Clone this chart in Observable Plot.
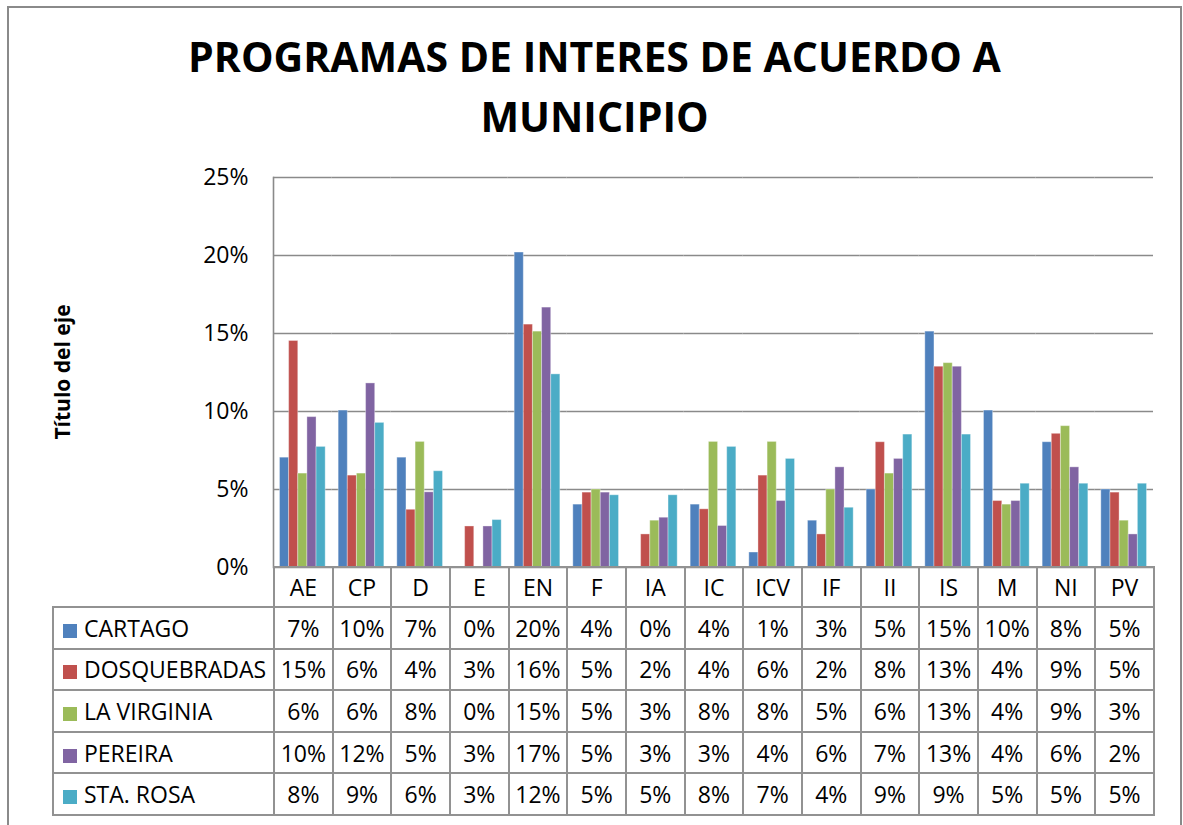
<!DOCTYPE html>
<html>
<head>
<meta charset="utf-8">
<script src="https://cdn.jsdelivr.net/npm/d3@7"></script>
<script src="https://cdn.jsdelivr.net/npm/@observablehq/plot@0.6"></script>
<style>
  body { margin: 0; background: #fff; font-family: "Open Sans", sans-serif; color: #000; }
  #wrap { position: relative; width: 1183px; height: 825px; overflow: hidden; background: #fff; }
  #border { position: absolute; left: 7px; top: 6px; width: 1175px; height: 900px; border: 2px solid #8a8a8a; box-sizing: border-box; }
  #title { position: absolute; left: 7px; top: 26px; width: 1175px; text-align: center; font-weight: bold; font-size: 41px; line-height: 60px; }
  #ytitle { position: absolute; left: 62px; top: 372px; transform: translate(-50%, -50%) rotate(-90deg); font-weight: bold; font-size: 21px; white-space: nowrap; }
  #chart { position: absolute; left: 0; top: 0; }
  #table { position: absolute; border-collapse: collapse; table-layout: fixed; font-size: 23px; }
  #table td { padding: 0; text-align: center; vertical-align: middle; border: 2px solid #929292; white-space: nowrap; }
  #table td.blank { border: none; }
  #table td.leg { text-align: left; padding-left: 9px; }
  .sw { display: inline-block; width: 14px; height: 14px; margin-right: 7px; vertical-align: -1px; }
</style>
</head>
<body>
<div id="wrap">
  <div id="border"></div>
  <div id="title">PROGRAMAS DE INTERES DE ACUERDO A<br>MUNICIPIO</div>
  <div id="ytitle">Título del eje</div>
  <div id="chart"></div>
</div>
<script>
// ---- data ----
const categories = ["AE","CP","D","E","EN","F","IA","IC","ICV","IF","II","IS","M","NI","PV"];
const series = ["CARTAGO","DOSQUEBRADAS","LA VIRGINIA","PEREIRA","STA. ROSA"];
const colors = ["#4F81BD","#C0504D","#9BBB59","#8064A2","#4BACC6"];
const cartago      = [0.0704,0.1006,0.0704,0.0000,0.2019,0.0403,0.0000,0.0403,0.0096,0.0300,0.0500,0.1512,0.1006,0.0803,0.0500];
const dosquebradas = [0.1452,0.0589,0.0370,0.0263,0.1557,0.0480,0.0212,0.0373,0.0589,0.0212,0.0803,0.1287,0.0426,0.0857,0.0480];
const laVirginia   = [0.0602,0.0602,0.0805,0.0000,0.1512,0.0500,0.0300,0.0805,0.0805,0.0500,0.0602,0.1310,0.0403,0.0906,0.0300];
const pereira      = [0.0964,0.1180,0.0482,0.0263,0.1666,0.0480,0.0319,0.0266,0.0426,0.0642,0.0696,0.1287,0.0426,0.0642,0.0212];
const staRosa      = [0.0773,0.0927,0.0617,0.0304,0.1238,0.0463,0.0463,0.0773,0.0696,0.0383,0.0852,0.0852,0.0537,0.0537,0.0537];
const yTicks = [0, 0.05, 0.10, 0.15, 0.20, 0.25];

const seriesValues = [cartago, dosquebradas, laVirginia, pereira, staRosa];
const data = [];
categories.forEach((c, i) => series.forEach((s, j) => data.push({cat: c, series: s, value: seriesValues[j][i]})));
const fmt = d3.format(".0%");

const M = {top: 177, bottom: 3, left: 273, right: 30};
const chart = Plot.plot({
  width: 1183,
  height: 570,
  marginTop: M.top, marginBottom: M.bottom, marginLeft: M.left, marginRight: M.right,
  style: {fontFamily: "'Open Sans', sans-serif", fontSize: "23px", color: "#000", background: "transparent", overflow: "visible"},
  fx: {domain: categories, padding: 0, round: false, axis: null},
  x: {domain: series, paddingInner: 0, paddingOuter: 0.71, round: false, axis: null},
  y: {domain: [0, 0.25], axis: null},
  color: {domain: series, range: colors},
  marks: [
    Plot.gridY(yTicks, {stroke: "#8a8a8a", strokeOpacity: 1, strokeWidth: 1.6}),
    Plot.frame({anchor: "left", facetAnchor: "left", stroke: "#8a8a8a", strokeWidth: 1.6}),
    Plot.axisY(yTicks, {tickFormat: fmt, tickSize: 0, tickPadding: 25, label: null, fontSize: 23}),
    Plot.barY(data, {fx: "cat", x: "series", y: "value", fill: "series", stroke: "#ffffff", strokeOpacity: 0.35, strokeWidth: 1})
  ]
});
document.getElementById("chart").appendChild(chart);

// ---- data table below the chart ----
const fx = chart.scale("fx");
const bw = fx.bandwidth;
const tableLeft = 52;
const table = document.createElement("table");
table.id = "table";
table.style.left = tableLeft + "px";
table.style.top = (570 - M.bottom - 1) + "px";
table.style.width = (M.left - tableLeft + bw * categories.length) + "px";
const colgroup = document.createElement("colgroup");
const c0 = document.createElement("col"); c0.style.width = (M.left - tableLeft) + "px"; colgroup.appendChild(c0);
categories.forEach(() => { const c = document.createElement("col"); c.style.width = bw + "px"; colgroup.appendChild(c); });
table.appendChild(colgroup);
const head = document.createElement("tr");
head.style.height = "40px";
const blank = document.createElement("td"); blank.className = "blank"; head.appendChild(blank);
categories.forEach(c => { const td = document.createElement("td"); td.textContent = c; head.appendChild(td); });
table.appendChild(head);
series.forEach((s, j) => {
  const tr = document.createElement("tr");
  tr.style.height = "41.6px";
  const td0 = document.createElement("td"); td0.className = "leg";
  const sw = document.createElement("span"); sw.className = "sw"; sw.style.background = colors[j];
  td0.appendChild(sw); td0.appendChild(document.createTextNode(s));
  tr.appendChild(td0);
  seriesValues[j].forEach(v => { const td = document.createElement("td"); td.textContent = fmt(v); tr.appendChild(td); });
  table.appendChild(tr);
});
document.getElementById("wrap").appendChild(table);
</script>
</body>
</html>
